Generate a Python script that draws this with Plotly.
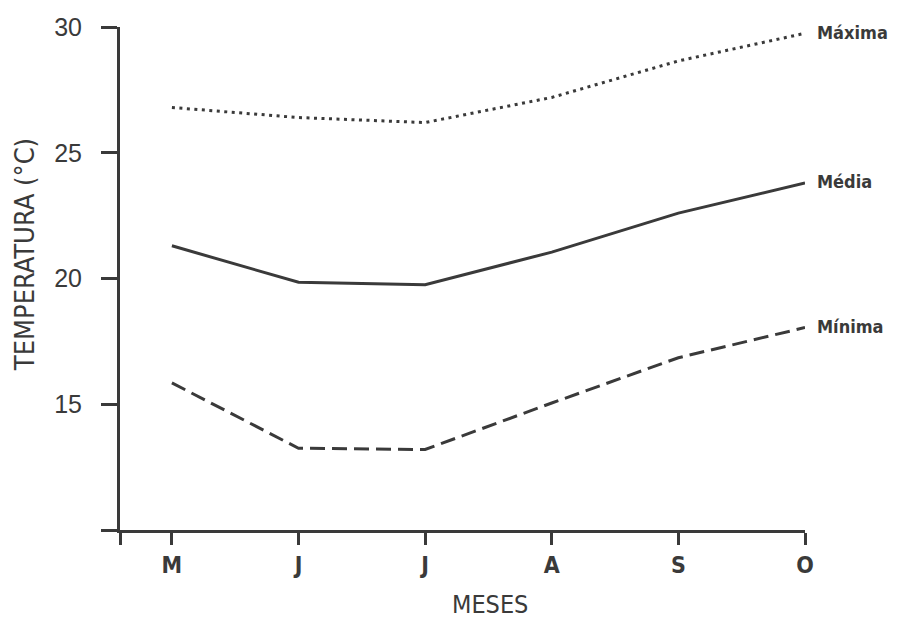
import plotly.graph_objects as go

meses = ["M", "J", "J", "A", "S", "O"]
maxima = [26.8, 26.4, 26.2, 27.2, 28.65, 29.75]
media = [21.3, 19.85, 19.75, 21.05, 22.6, 23.8]
minima = [15.85, 13.25, 13.2, 15.05, 16.85, 18.05]
y_ticks = [10, 15, 20, 25, 30]
y_ticktext = ["", "15", "20", "25", "30"]
x_title = "MESES"
y_title = "TEMPERATURA (°C)"

ink = "#3a3a3a"
cond = "DejaVu Sans Condensed, Liberation Sans Narrow, sans-serif"
wide = "Liberation Sans, Roboto, sans-serif"
xi = list(range(len(meses)))
x0 = -0.41

fig = go.Figure()
fig.add_trace(go.Scatter(x=xi, y=maxima, mode="lines", name="Máxima",
                         line=dict(color=ink, width=3, dash="3px,4.5px")))
fig.add_trace(go.Scatter(x=xi, y=media, mode="lines", name="Média",
                         line=dict(color=ink, width=3)))
fig.add_trace(go.Scatter(x=xi, y=minima, mode="lines", name="Mínima",
                         line=dict(color=ink, width=3, dash="15px,7px")))

for name, vals in [("Máxima", maxima), ("Média", media), ("Mínima", minima)]:
    fig.add_annotation(x=xi[-1], y=vals[-1], text="<b>" + name + "</b>", showarrow=False,
                       xanchor="left", yanchor="middle", xshift=10, yshift=1,
                       font=dict(family=cond, size=18, color=ink))

# axis titles (positioned like the reference)
fig.add_annotation(xref="paper", yref="paper", x=0.54, y=-0.148, text=x_title,
                   showarrow=False, xanchor="center", yanchor="middle", borderpad=0,
                   font=dict(family=cond, size=25, color=ink))
fig.add_annotation(xref="paper", yref="paper", x=-0.139, y=0.548, text=y_title,
                   showarrow=False, textangle=-90, xanchor="center", yanchor="middle",
                   font=dict(family=cond, size=27, color=ink))

fig.update_layout(
    width=898, height=622,
    margin=dict(l=120, r=93, t=27, b=92),
    paper_bgcolor="white", plot_bgcolor="white",
    showlegend=False,
    font=dict(family=wide, color=ink),
)
fig.update_xaxes(
    range=[x0, 5], tickmode="array", tickvals=[x0] + xi,
    ticktext=[""] + ["<b>" + m + "</b>" for m in meses],
    showline=True, linecolor=ink, linewidth=3, ticks="outside", ticklen=12,
    tickwidth=3, tickcolor=ink, showgrid=False, zeroline=False,
    tickfont=dict(family=cond, size=23, color=ink),
    automargin=False,
)
fig.update_yaxes(
    range=[10, 30], tickmode="array", tickvals=y_ticks, ticktext=y_ticktext,
    showline=True, linecolor=ink, linewidth=3, ticks="outside", ticklen=16,
    tickwidth=3, tickcolor=ink, showgrid=False, zeroline=False,
    tickfont=dict(family=wide, size=25, color=ink), ticklabelstandoff=14,
    automargin=False,
)
fig.update_traces(cliponaxis=False)
fig.write_html("out.html", post_script="document.body.style.margin='0';",
               config={"displayModeBar": False})
